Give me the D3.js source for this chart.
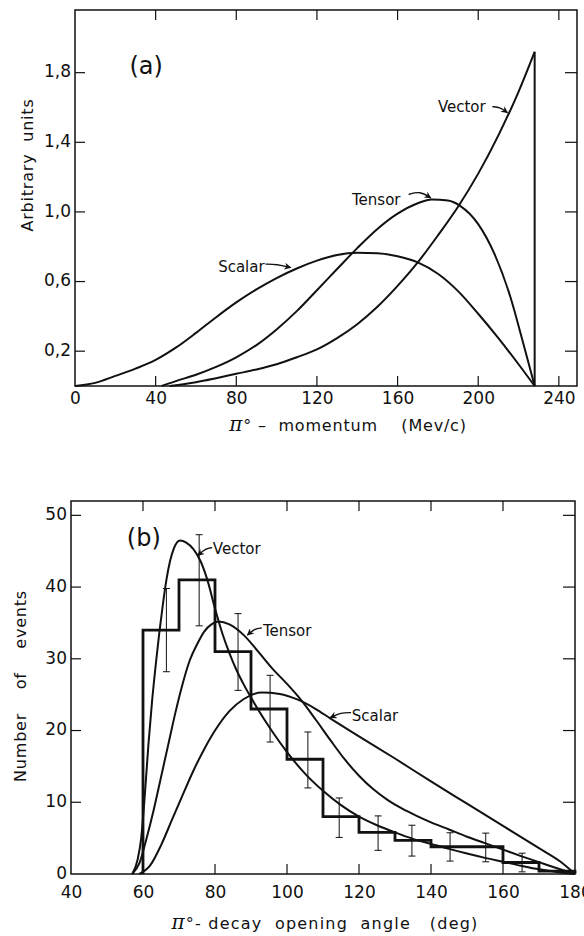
<!DOCTYPE html>
<html>
<head>
<meta charset="utf-8">
<script src="https://cdn.jsdelivr.net/npm/d3@7"></script>
<style>
  body { margin: 0; background: #fff; }
  text { font-family: "DejaVu Sans", sans-serif; fill: #111; }
  .tick text { font-size: 17px; }
</style>
</head>
<body>
<div class="chart"></div>
<script>
// ---- panel (a): pi0 momentum spectra ----
var scalarA = [[0,0],[10,0.018],[20,0.058],[30,0.10],[40,0.15],[50,0.22],[60,0.305],[70,0.395],[80,0.48],[90,0.555],[100,0.62],[110,0.675],[120,0.72],[130,0.752],[140,0.765],[150,0.762],[160,0.745],[170,0.71],[180,0.645],[190,0.545],[200,0.415],[210,0.275],[220,0.125],[228,0]];
var tensorA = [[43,0],[50,0.028],[60,0.065],[70,0.11],[80,0.165],[90,0.235],[100,0.325],[110,0.43],[120,0.55],[130,0.672],[140,0.792],[150,0.902],[160,0.99],[170,1.05],[177,1.072],[185,1.065],[191,1.035],[200,0.93],[208,0.76],[216,0.51],[222,0.26],[228,0]];
var vectorA = [[47,0],[60,0.022],[70,0.045],[80,0.07],[90,0.095],[100,0.125],[110,0.165],[120,0.21],[130,0.275],[140,0.355],[150,0.455],[160,0.575],[170,0.71],[180,0.865],[190,1.03],[200,1.22],[210,1.44],[220,1.69],[228,1.92]];
var endpointA = 228;
var xTicksA = [0,40,80,120,160,200,240];
var yTicksA = [0.2,0.6,1.0,1.4,1.8];

// ---- panel (b): opening angle distribution ----
var binEdges = [60,70,80,90,100,110,120,130,140,150,160,170,180];
var counts = [34,41,31,23,16,8,5.8,4.7,3.8,3.8,1.6,0.4];
var errX = [66.5,75.6,86.4,95.3,105.8,114.5,125.3,134.7,145.3,155.2,165.3];
var errLo = [28.2,34.6,25.6,18.4,12,5.1,3.3,2.5,1.8,1.7,0.3];
var errHi = [39.8,47.3,36.3,27.7,19.8,10.6,8.1,6.8,5.75,5.7,2.9];
var vectorB = [[57,0],[58.5,2],[59.5,5],[60.5,11],[61.5,18],[62.5,24],[63.5,29],[64.5,33.5],[65.5,37.5],[66.5,41],[67.5,43.6],[68.5,45.3],[70.3,46.5],[72,46.2],[74,45.3],[76,43.6],[78,40.8],[80,37],[82,33.6],[84,30.8],[86,28.4],[88,26.4],[90,24.6],[92,22.9],[96,19.8],[100,17],[105,14],[110,11.6],[115,9.6],[120,8],[125,6.8],[130,5.8],[135,4.9],[140,4.2],[145,3.5],[150,2.85],[155,2.25],[160,1.7],[165,1.15],[170,0.65],[175,0.28],[180,0]];
var tensorB = [[57,0],[59,1.5],[61,5],[63,9],[65,13.5],[67,18],[69,22.5],[71,26.5],[73,29.8],[75,32],[77,33.8],[79,34.8],[81,35.2],[84,34.8],[88,33.3],[92,31],[96,28.6],[100,26.5],[104,24.2],[108,21.5],[112,18.7],[116,16],[120,13.7],[124,11.8],[128,10.3],[132,9.1],[136,8.1],[140,7.2],[145,6.2],[150,5.2],[155,4.3],[160,3.4],[165,2.5],[170,1.65],[175,0.8],[180,0]];
var scalarB = [[59,0],[62,1.2],[65,4],[68,7.5],[71,11],[74,14.4],[77,17.4],[80,20],[84,22.7],[88,24.4],[93,25.3],[98,25.1],[103,24.3],[108,23],[112,21.7],[120,19.2],[130,16.1],[140,12.9],[150,9.8],[160,6.7],[170,3.6],[176,1.7],[180,0]];
var xTicksB = [40,60,80,100,120,140,160,180];
var yTicksB = [0,10,20,30,40,50];

var svg = d3.select(".chart").append("svg")
  .attr("width", 584)
  .attr("height", 936);

svg.append("defs").append("marker")
  .attr("id", "arrow")
  .attr("viewBox", "0 0 10 10")
  .attr("refX", 9).attr("refY", 5)
  .attr("markerWidth", 9).attr("markerHeight", 7)
  .attr("markerUnits", "userSpaceOnUse")
  .attr("orient", "auto")
  .append("path")
  .attr("d", "M0,0 L10,5 L0,10 L3,5 z")
  .attr("fill", "#111");

var comma = function(d) { return d3.format(".1f")(d).replace(".", ","); };

// draw one framed panel with inward ticks on all four sides
function framePanel(x, y, xt, yt, xInner, yInner, xFmt, yFmt, xPad) {
  var g = svg.append("g");
  var x0 = x.range()[0], x1 = x.range()[1], y0 = y.range()[0], y1 = y.range()[1];

  g.append("g").attr("transform", `translate(0,${y0})`)
    .call(d3.axisBottom(x).tickValues(xt).tickSize(0).tickPadding(xPad).tickFormat(xFmt))
    .call(a => a.select(".domain").remove());
  g.append("g").attr("transform", `translate(${x0},0)`)
    .call(d3.axisLeft(y).tickValues(yt).tickSize(0).tickPadding(4).tickFormat(yFmt))
    .call(a => a.select(".domain").remove())
    .call(a => a.selectAll(".tick text").attr("dy", "0.25em"));

  // inward tick marks
  xInner.forEach(function(v) {
    g.append("line").attr("x1", x(v)).attr("x2", x(v)).attr("y1", y0).attr("y2", y0 - 10).attr("stroke", "#111").attr("stroke-width", 1.2);
    g.append("line").attr("x1", x(v)).attr("x2", x(v)).attr("y1", y1).attr("y2", y1 + 10).attr("stroke", "#111").attr("stroke-width", 1.2);
  });
  yInner.forEach(function(v) {
    g.append("line").attr("x1", x0).attr("x2", x0 + 10).attr("y1", y(v)).attr("y2", y(v)).attr("stroke", "#111").attr("stroke-width", 1.2);
    g.append("line").attr("x1", x1).attr("x2", x1 - 12).attr("y1", y(v)).attr("y2", y(v)).attr("stroke", "#111").attr("stroke-width", 1.2);
  });

  g.append("rect")
    .attr("x", x0).attr("y", y1)
    .attr("width", x1 - x0).attr("height", y0 - y1)
    .attr("fill", "none").attr("stroke", "#111").attr("stroke-width", 1.5);
  return g;
}

function label(txt, xs, ys, px, py, size) {
  return svg.append("text")
    .attr("x", xs(px)).attr("y", ys(py))
    .attr("font-size", size)
    .text(txt);
}

function arrow(xs, ys, pts) {
  svg.append("path")
    .attr("d", d3.line().x(d => xs(d[0])).y(d => ys(d[1])).curve(d3.curveBasis)(pts))
    .attr("fill", "none")
    .attr("stroke", "#111")
    .attr("stroke-width", 1.4)
    .attr("marker-end", "url(#arrow)");
}

// ================= panel (a) =================
var xA = d3.scaleLinear().domain([0, 249]).range([75, 577]);
var yA = d3.scaleLinear().domain([0, 2.16]).range([386, 10]);

framePanel(xA, yA, xTicksA, yTicksA, xTicksA.slice(1), yTicksA, d3.format("d"), comma, 6);

var lineA = d3.line().x(d => xA(d[0])).y(d => yA(d[1])).curve(d3.curveMonotoneX);

[scalarA, tensorA, vectorA].forEach(function(s) {
  svg.append("path").datum(s)
    .attr("d", lineA)
    .attr("fill", "none").attr("stroke", "#111").attr("stroke-width", 2);
});

// vector spectrum drops to zero at the kinematic endpoint
svg.append("line")
  .attr("x1", xA(endpointA)).attr("x2", xA(endpointA))
  .attr("y1", yA(vectorA[vectorA.length - 1][1])).attr("y2", yA(0))
  .attr("stroke", "#111").attr("stroke-width", 2);

label("(a)", xA, yA, 27, 1.79, 24);
label("Scalar", xA, yA, 71, 0.655, 15);
arrow(xA, yA, [[94.5, 0.70], [100, 0.70], [107, 0.68]]);
label("Tensor", xA, yA, 137.4, 1.04, 15);
arrow(xA, yA, [[165.5, 1.10], [171, 1.12], [176.5, 1.08]]);
label("Vector", xA, yA, 180, 1.575, 15);
arrow(xA, yA, [[207, 1.605], [211, 1.60], [214.5, 1.57]]);

svg.append("text")
  .attr("transform", `translate(33,165) rotate(-90)`)
  .attr("text-anchor", "middle")
  .attr("font-size", 16)
  .attr("letter-spacing", 0.8)
  .style("white-space", "pre")
  .text("Arbitrary  units");

svg.append("text")
  .attr("x", 348).attr("y", 431)
  .attr("text-anchor", "middle")
  .attr("font-size", 16)
  .attr("letter-spacing", 0.8)
  .style("white-space", "pre")
  .html('<tspan font-style="italic" font-size="20" font-family="DejaVu Serif">π</tspan>° –  momentum    (Mev/c)');

// ================= panel (b) =================
var xB = d3.scaleLinear().domain([40, 180]).range([71, 575]);
var yB = d3.scaleLinear().domain([0, 52]).range([874, 501]);

framePanel(xB, yB, xTicksB, yTicksB, xTicksB.slice(1, -1), yTicksB.slice(1), d3.format("d"), d3.format("d"), 12);

// histogram
var histPts = [[binEdges[0], 0]];
counts.forEach(function(c, i) {
  histPts.push([binEdges[i], c]);
  histPts.push([binEdges[i + 1], c]);
});
histPts.push([binEdges[binEdges.length - 1], 0]);

svg.append("path").datum(histPts)
  .attr("d", d3.line().x(d => xB(d[0])).y(d => yB(d[1])))
  .attr("fill", "none").attr("stroke", "#111").attr("stroke-width", 2.8);

// error bars
var eg = svg.append("g").attr("stroke", "#111").attr("stroke-width", 1);
errX.forEach(function(v, i) {
  eg.append("line").attr("x1", xB(v)).attr("x2", xB(v)).attr("y1", yB(errLo[i])).attr("y2", yB(errHi[i]));
  eg.append("line").attr("x1", xB(v) - 3.5).attr("x2", xB(v) + 3.5).attr("y1", yB(errLo[i])).attr("y2", yB(errLo[i]));
  eg.append("line").attr("x1", xB(v) - 3.5).attr("x2", xB(v) + 3.5).attr("y1", yB(errHi[i])).attr("y2", yB(errHi[i]));
});

var lineB = d3.line().x(d => xB(d[0])).y(d => yB(d[1])).curve(d3.curveMonotoneX);
[scalarB, tensorB, vectorB].forEach(function(s) {
  svg.append("path").datum(s)
    .attr("d", lineB)
    .attr("fill", "none").attr("stroke", "#111").attr("stroke-width", 2);
});

label("(b)", xB, yB, 55.5, 45.7, 24);
label("Vector", xB, yB, 79.4, 44.6, 15);
arrow(xB, yB, [[79.2, 45.5], [77.5, 45.4], [75.2, 44.4]]);
label("Tensor", xB, yB, 93.3, 33.2, 15);
arrow(xB, yB, [[93, 34.3], [91, 34.2], [89, 33.3]]);
label("Scalar", xB, yB, 118, 21.3, 15);
arrow(xB, yB, [[117.8, 22.5], [115, 22.5], [112, 21.8]]);

svg.append("text")
  .attr("transform", `translate(26,686) rotate(-90)`)
  .attr("text-anchor", "middle")
  .attr("font-size", 16)
  .attr("letter-spacing", 0.8)
  .style("white-space", "pre")
  .text("Number    of    events");

svg.append("text")
  .attr("x", 325).attr("y", 929)
  .attr("text-anchor", "middle")
  .attr("font-size", 16)
  .attr("letter-spacing", 1.2)
  .style("white-space", "pre")
  .html('<tspan font-style="italic" font-size="20" font-family="DejaVu Serif">π</tspan>°- decay  opening  angle   (deg)');
</script>
</body>
</html>
